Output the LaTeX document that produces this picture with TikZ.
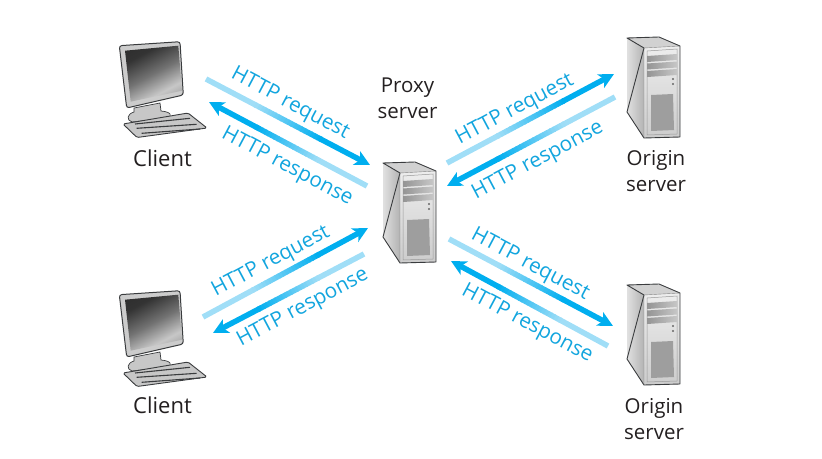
\documentclass[tikz,border=0pt]{standalone}
\usepackage{fontspec}
\setmainfont{Open Sans}
\usetikzlibrary{arrows.meta,calc}
\definecolor{flowdark}{HTML}{00AEEF}
\definecolor{flowlight}{HTML}{A0DEF7}
\definecolor{flowtext}{HTML}{12A5DE}
\definecolor{ink}{HTML}{231F20}
\definecolor{edge}{HTML}{3A3C3E}
\pgfdeclarehorizontalshading{screenshade}{100bp}{color(0bp)=(black!85); color(30bp)=(black!80); color(50bp)=(black!55); color(68bp)=(black!22); color(74bp)=(black!30); color(100bp)=(black!60)}
\tikzset{
  blacklabel/.style={text=ink,font=\fontsize{20.5}{26}\selectfont,align=center,inner sep=0pt},
  clientlabel/.style={blacklabel,font=\fontsize{22}{26}\selectfont},
  flowlabel/.style={text=flowtext,font=\fontsize{20.7}{24}\selectfont,inner sep=0pt},
  flowseg/.style={line width=5.5pt},
  flowtip/.style={line width=5.5pt,flowdark,-{Stealth[length=15pt,width=15pt,inset=4pt]}},
  computer/.pic={
    \begin{scope}[shift={(-119,-41)}]
      % stand
      \fill[black!22,draw=edge,line width=.7pt] (134,108) -- (160,103) -- (161,111) .. controls (172,112) and (172,116) .. (168,118) -- (132,122) .. controls (126,120) and (127,114) .. (134,112) -- cycle;
      % keyboard
      \fill[black!22,draw=edge,line width=.9pt,rounded corners=1.5pt] (123,124) -- (188,113) -- (207,128) -- (137,137.5) -- cycle;
      \draw[edge,line width=1.1pt] (135,124) -- (190,118.3) (136.7,128.3) -- (196.7,124.3) (141.7,133.3) -- (200,129);
      % monitor
      \fill[black!20,draw=edge,line width=1pt,rounded corners=2.5pt] (119.3,45.7) -- (180,41.7) -- (183.3,95) -- (126.7,108) -- cycle;
      \shade[shading=screenshade,shading angle=-62] (125,50.7) -- (178.3,45.7) -- (182,90.7) -- (130.7,101.7) -- cycle;
    \end{scope}
  },
  server/.pic={
    \fill[black!18] (0,0) -- (32,-1) -- (53,8) -- (17,10) -- cycle;
    \shade[left color=black!12,right color=black!30] (0,0) -- (17,10) -- (17,100) -- (0,74) -- cycle;
    \shade[top color=black!7,bottom color=black!20] (17,10) -- (53,8) -- (53,99) -- (17,100) -- cycle;
    \draw[black!40,line width=.5pt] (20,13) -- (50,11) -- (50,96) -- (20,97) -- cycle;
    \foreach \yy in {17,24.5,32} {
      \shade[left color=black!42,right color=black!22] (20,\yy+1) -- (50,\yy-1) -- (50,\yy+5) -- (20,\yy+7) -- cycle;
    }
    \fill[black!60] (46,41) circle (1.1) (46,46) circle (1.1);
    \fill[black!38] (24,57) -- (46,56) -- (47,92) -- (24,93) -- cycle;
    \draw[edge,line width=.9pt,line join=round] (17,10) -- (0,0) -- (32,-1) -- (53,8) -- (53,99) -- (17,100) -- (0,74) -- cycle;
    \draw[black!50,line width=.4pt] (17,10) -- (53,8) (17,10) -- (17,100);
  }
}
\newcommand{\flowarrow}[2]{%
  \draw[flowseg,flowlight] (#1) -- ($(#1)!.31!(#2)$);
  \foreach \i in {0,...,19} {
    \pgfmathsetmacro{\ta}{.3+\i*.02}
    \pgfmathsetmacro{\tb}{\ta+.024}
    \pgfmathtruncatemacro{\pc}{\i*5+2}
    \colorlet{segcolor}{flowdark!\pc!flowlight}
    \draw[flowseg,segcolor] ($(#1)!\ta!(#2)$) -- ($(#1)!\tb!(#2)$);
  }
  \draw[flowtip] ($(#1)!.69!(#2)$) -- (#2);
}
\begin{document}
\begin{tikzpicture}[x=1pt,y=-1pt]
\useasboundingbox (0,0) rectangle (822,458);
\pic (clientA) at (119,41) {computer};
\pic (clientB) at (119,290) {computer};
\pic (proxy) at (383,163) {server};
\pic (originA) at (627,38) {server};
\pic (originB) at (627,285) {server};

\node[clientlabel] (lclientA) at (162.5,158) {Client};
\node[clientlabel] (lclientB) at (162.5,405) {Client};
\node[blacklabel] (lproxy) at (407.5,98) {Proxy\\server};
\node[blacklabel] (loriginA) at (656,171) {Origin\\server};
\node[blacklabel] (loriginB) at (654,419) {Origin\\server};

\coordinate (a1s) at (206,79);   \coordinate (a1e) at (370,165);
\coordinate (a2s) at (367,186);  \coordinate (a2e) at (209,102);
\coordinate (b1s) at (447,163);  \coordinate (b1e) at (614,74);
\coordinate (b2s) at (615,97);   \coordinate (b2e) at (447,186);
\coordinate (c1s) at (203,317);  \coordinate (c1e) at (368,228);
\coordinate (c2s) at (364,254);  \coordinate (c2e) at (213,333);
\coordinate (d1s) at (449,239);  \coordinate (d1e) at (613,326);
\coordinate (d2s) at (608,346);  \coordinate (d2e) at (451,261);

\flowarrow{a1s}{a1e}
\flowarrow{a2s}{a2e}
\flowarrow{b1s}{b1e}
\flowarrow{b2s}{b2e}
\flowarrow{c1s}{c1e}
\flowarrow{c2s}{c2e}
\flowarrow{d1s}{d1e}
\flowarrow{d2s}{d2e}

\node[flowlabel,rotate=-28] (ta1) at (290,104) {HTTP request};
\node[flowlabel,rotate=-28] (ta2) at (287,167) {HTTP response};
\node[flowlabel,rotate=28] (tb1) at (515,110) {HTTP request};
\node[flowlabel,rotate=28] (tb2) at (538,161) {HTTP response};
\node[flowlabel,rotate=28] (tc1) at (271,262) {HTTP request};
\node[flowlabel,rotate=28] (tc2) at (303,308) {HTTP response};
\node[flowlabel,rotate=-28] (td1) at (530,265) {HTTP request};
\node[flowlabel,rotate=-28] (td2) at (527,324) {HTTP response};
\end{tikzpicture}
\end{document}
